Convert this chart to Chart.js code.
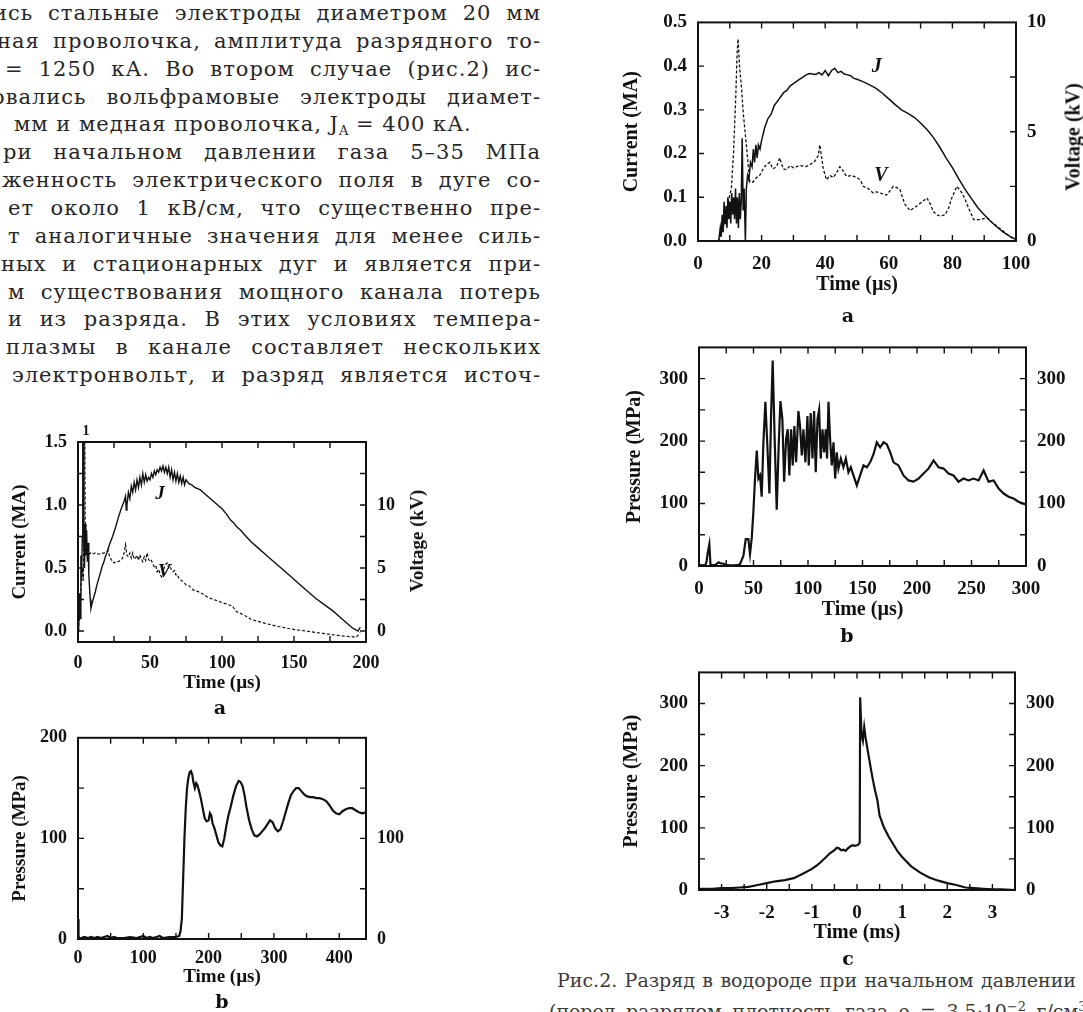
<!DOCTYPE html>
<html><head><meta charset="utf-8">
<script src="https://cdn.jsdelivr.net/npm/chart.js@4.4.1/dist/chart.umd.min.js"></script>
<style>
html,body{margin:0;padding:0;background:#fff;}
body{width:1083px;height:1012px;overflow:hidden;position:relative;}
canvas{position:absolute;}
.txt{position:absolute;font-family:'DejaVu Serif',serif;font-size:21px;letter-spacing:1px;line-height:28px;color:#262626;white-space:nowrap;}
.cap{position:absolute;font-family:'DejaVu Serif',serif;font-size:19px;line-height:28px;color:#3a3a3a;white-space:nowrap;}
.sub{position:absolute;font-family:'DejaVu Serif',serif;font-weight:bold;font-size:19px;color:#111;transform:translate(-50%,-50%);}
.vt{position:absolute;font-family:'Liberation Serif',serif;font-weight:bold;color:#111;white-space:nowrap;transform:translate(-50%,-50%) rotate(-90deg);}
sub{font-size:13px;vertical-align:-4px;line-height:0;letter-spacing:0;}
sup{font-size:13px;vertical-align:7px;line-height:0;}
</style></head>
<body>
<canvas id="la" width="410" height="276" style="left:0;top:420px"></canvas>
<canvas id="lb" width="410" height="274" style="left:0;top:716px"></canvas>
<canvas id="ra" width="483" height="299" style="left:600px;top:0"></canvas>
<canvas id="rb" width="483" height="299" style="left:600px;top:325px"></canvas>
<canvas id="rc" width="483" height="297" style="left:600px;top:650px"></canvas>
<div id="page"></div>
<script>
// ---------------- DATA ----------------
const paragraphLines = [
 "ись стальные электроды диаметром 20 мм",
 "ная проволочка, амплитуда разрядного то-",
 "= 1250 кА. Во втором случае (рис.2) ис-",
 "овались вольфрамовые электроды диамет-",
 "мм и медная проволочка, J<sub>A</sub> = 400 кА.",
 "ри начальном давлении газа 5–35 МПа",
 "женность электрического поля в дуге со-",
 "ет около 1 кВ/см, что существенно пре-",
 "т аналогичные значения для менее силь-",
 "ных и стационарных дуг и является при-",
 "м существования мощного канала потерь",
 "и из разряда. В этих условиях темпера-",
 "плазмы в канале составляет нескольких",
 "электронвольт, и разряд является источ-"
];
const captionLines = [
 "Рис.2. Разряд в водороде при начальном давлении",
 "(перед разрядом плотность газа ρ = 3.5·10<sup>−2</sup> г/см<sup>3</sup>),"
];
const subLabels = ["a", "b", "a", "b", "c"];
const timeTitleUs = "Time (µs)";
const timeTitleMs = "Time (ms)";
const currentTitle = "Current (MA)";
const voltageTitle = "Voltage (kV)";
const pressureTitle = "Pressure (MPa)";

// Fig.1a (left): time µs, current MA
const laCurrent = [[0,0],[0.5,0.05],[1,0.3],[1.5,0.1],[2,0.6],[2.5,0.4],[3,0.75],[3.3,1.6],[3.7,1.6],[4,0.7],[4.5,0.5],[5,0.85],[5.5,0.6],[6,0.8],[6.5,0.55],[7,0.7],[7.5,0.45],[8,0.35],[8.5,0.25],[9,0.18],[10,0.23],[11,0.27],[12,0.31],[13,0.36],[14,0.4],[15,0.44],[16,0.48],[17,0.52],[18,0.55],[19,0.59],[20,0.62],[22,0.69],[24,0.75],[26,0.82],[28,0.9],[30,0.97],[32,1.03],[33,1.07],[33.5,0.96],[34,1.0],[35,1.1],[36,1.05],[37,1.15],[38,1.1],[39,1.18],[40,1.12],[41,1.2],[42,1.14],[43,1.22],[44,1.16],[45,1.25],[46,1.18],[47,1.24],[48,1.19],[49,1.22],[50,1.2],[51,1.25],[52,1.22],[53,1.27],[54,1.24],[55,1.28],[56,1.26],[57,1.3],[58,1.27],[59,1.31],[60,1.26],[61,1.3],[62,1.25],[63,1.3],[64,1.22],[65,1.28],[66,1.2],[67,1.26],[68,1.19],[69,1.25],[70,1.18],[71,1.23],[72,1.17],[73,1.22],[74,1.16],[75,1.2],[77,1.17],[79,1.16],[81,1.14],[83,1.13],[85,1.12],[87,1.1],[89,1.08],[91,1.06],[93,1.04],[95,1.02],[97,1.0],[100,0.97],[103,0.93],[106,0.88],[108,0.86],[110,0.83],[113,0.8],[116,0.76],[120,0.71],[125,0.66],[131,0.6],[140,0.51],[147,0.44],[154,0.37],[160,0.31],[165,0.26],[171,0.21],[177,0.16],[182,0.11],[186,0.07],[189,0.04],[191,0.02],[193,0.01],[194.5,0.0],[196,0.03]];
// Fig.1a (left): time µs, voltage kV
const laVoltage = [[0,0],[1,1],[2,3],[3,5],[3.8,4],[4.3,17],[4.7,17],[5.1,7],[5.6,6.4],[6,6.0],[7,6.3],[8,6.1],[9,6.2],[10,6.1],[12,6.2],[14,6.1],[16,6.15],[18,6.2],[20,6.3],[21,6.4],[22,5.9],[23,5.7],[24,5.5],[25,5.4],[26,5.5],[28,5.5],[30,5.65],[31,5.8],[32,6.2],[33,6.85],[34,6.0],[35,5.9],[36,6.2],[37,5.8],[38,6.2],[39,5.7],[40,5.8],[41,6.0],[42,5.6],[43,6.05],[44,5.7],[45,5.5],[46,5.9],[47,5.6],[48,6.2],[49,5.7],[50,5.5],[51,5.6],[52,5.3],[53,5.1],[54,5.2],[55,4.7],[56,4.9],[57,4.5],[58,4.3],[59,4.6],[60,5.1],[61,5.3],[62,5.4],[63,5.0],[64,5.1],[65,4.85],[66,4.7],[67,4.8],[68,4.45],[69,4.5],[70,4.2],[72,4.0],[74,3.8],[75,3.66],[77,3.6],[80,3.26],[82,3.2],[85,3.05],[88,2.85],[90,2.68],[93,2.55],[95,2.47],[98,2.35],[100,2.25],[103,2.15],[105,2.07],[107,2.0],[110,1.54],[112,1.45],[115,1.27],[118,1.1],[120,0.93],[125,0.77],[130,0.61],[135,0.47],[140,0.34],[145,0.23],[150,0.13],[155,0.05],[160,-0.03],[165,-0.11],[170,-0.19],[175,-0.27],[180,-0.34],[185,-0.4],[190,-0.45],[193,-0.5],[196,-0.13]];
// Fig.1b (left): time µs, pressure MPa
const lbPressure = [[0,20],[0.8,3],[2,0],[5,1],[10,2],[15,1],[20,2],[25,1],[30,2],[35,1],[40,2],[45,3],[50,1],[55,2],[60,1],[70,1],[80,2],[90,1],[100,3],[105,1],[110,2],[115,1],[120,2],[125,3],[130,1],[140,2],[150,2],[155,3],[157,8],[159,20],[161,60],[163,100],[165,130],[167,150],[169,160],[171,166],[173,167],[175,163],[177,155],[179,150],[181,155],[183,153],[185,148],[188,140],[191,130],[194,120],[197,117],[200,118],[202,125],[204,123],[206,115],[209,110],[212,103],[215,96],[218,93],[221,92],[224,100],[227,112],[230,122],[234,132],[238,143],[242,152],[246,157],[249,156],[252,152],[255,143],[258,131],[262,118],[266,109],[270,103],[274,102],[278,104],[282,107],[286,110],[290,114],[294,118],[298,116],[302,110],[306,107],[310,109],[314,117],[318,126],[322,135],[326,143],[330,147],[334,150],[338,150],[342,147],[346,144],[350,142],[355,141],[360,141],[365,140],[370,140],[375,139],[380,137],[385,133],[390,128],[395,125],[400,124],[405,127],[410,129],[415,130],[420,130],[425,128],[430,126],[435,125],[441,126]];
// Fig.2a (right): time µs, current MA
const raCurrent = [[0,0],[6.5,0],[7,0.03],[7.3,0.01],[7.6,0.06],[7.9,0.02],[8.2,0.09],[8.5,0.04],[8.8,0.08],[9.1,0.03],[9.4,0.1],[9.7,0.05],[10,0.09],[10.3,0.04],[10.6,0.11],[10.9,0.06],[11.2,0.1],[11.5,0.05],[11.8,0.12],[12.1,0.04],[12.4,0.1],[12.7,0.03],[13,0.11],[13.3,0.05],[13.6,0.09],[13.9,0.235],[14.2,0.07],[14.5,0.12],[14.9,0],[15.2,0.12],[15.6,0.15],[16,0.14],[16.5,0.18],[17,0.17],[17.4,0.21],[17.8,0.18],[18.2,0.22],[18.6,0.19],[19,0.22],[19.5,0.21],[20,0.23],[21,0.26],[22,0.28],[23,0.29],[24,0.31],[25,0.32],[26,0.33],[27,0.34],[28,0.345],[29,0.355],[30,0.36],[31,0.365],[32,0.37],[33,0.375],[34,0.38],[35,0.383],[36,0.382],[37,0.381],[38,0.385],[39,0.38],[40,0.39],[41,0.378],[42,0.39],[43,0.395],[44,0.385],[45,0.388],[46,0.382],[47,0.38],[48,0.378],[49,0.372],[50,0.37],[52,0.364],[54,0.357],[56,0.349],[58,0.338],[60,0.325],[62,0.312],[64,0.3],[66,0.292],[68,0.283],[70,0.27],[72,0.255],[74,0.237],[76,0.215],[78,0.19],[80,0.168],[82,0.142],[84,0.118],[86,0.097],[88,0.076],[90,0.06],[92,0.045],[94,0.032],[96,0.02],[98,0.011],[100,0.003]];
// Fig.2a (right): time µs, voltage kV
const raVoltage = [[0,0],[6.5,0],[7.9,0.6],[8.5,1.0],[9.5,1.8],[10.5,2.4],[11.2,4.1],[11.9,6.7],[12.3,8.6],[12.6,9.24],[13.1,7.9],[13.7,7.0],[14.2,5.9],[15.2,4.4],[16.3,2.7],[17.3,2.7],[18.4,2.9],[19.4,3.0],[20.5,3.3],[21.5,3.5],[22.6,3.6],[23.5,3.3],[24.7,3.4],[25.7,3.8],[26.8,3.3],[27.8,3.26],[29,3.45],[30,3.35],[31,3.4],[32.5,3.45],[34,3.4],[35.2,3.5],[36.5,3.6],[37.8,3.9],[38.3,4.4],[39.4,3.3],[40.4,2.8],[41.5,3.0],[42.5,2.9],[43.5,3.1],[44.6,3.4],[45.7,3.2],[46.7,2.95],[48.3,3.0],[49.9,2.9],[51,2.8],[52,2.5],[53.5,2.4],[55.1,2.2],[56.2,2.25],[57.2,2.2],[58.3,2.15],[59.3,2.1],[60.4,2.3],[61.4,2.5],[62.4,2.45],[63.5,2.35],[64.3,2.0],[65.1,1.67],[66.7,1.39],[68.8,1.6],[70.5,1.8],[72,1.97],[73,1.7],[74,1.36],[75,1.2],[76.1,1.14],[77.7,1.2],[78.8,1.5],[79.8,1.97],[81.4,2.5],[83,2.2],[84,1.9],[85.1,1.5],[86.7,0.98],[88.8,0.98],[90.9,1.06],[92.5,0.85],[94,0.68],[95.6,0.5],[97.2,0.3],[99.3,0.08]];
// Fig.2b (right): time µs, pressure MPa
const rbPressure = [[0,2],[3,1],[6,2],[7,8],[8,21],[9.5,35],[10.5,3],[12,1],[15,2],[18,6],[20,4],[22,4],[25,2],[28,1],[32,1],[36,2],[37.6,3],[40.7,16],[42.9,43],[45.3,43],[46.8,19],[48.4,45],[49.9,87],[51.4,140],[53,185],[54.5,140],[56,145],[57.5,111],[59.1,198],[60.9,263],[62.7,193],[64.6,116],[66.1,240],[67.6,329],[69.5,198],[71.3,90],[73.2,198],[74.7,264],[76.5,235],[78.1,135],[79.9,203],[81.4,219],[82.9,145],[84.5,219],[86,161],[87.5,224],[89.1,166],[91.2,248],[92.7,224],[94.3,177],[95.8,219],[97.6,166],[99.5,240],[100.7,161],[102.5,245],[104.1,172],[105.6,248],[107.1,150],[108.7,235],[110.2,250],[111.7,172],[113.3,219],[114.8,182],[116.3,219],[117.5,172],[118.8,263],[120.3,203],[121.8,161],[123.4,198],[124.9,140],[126.4,182],[127.9,156],[130.1,172],[132.5,158],[134.7,172],[137.1,150],[139.3,158],[141.7,145],[144.8,129],[147.8,145],[150.9,161],[154,158],[157,166],[160.1,179],[163.1,198],[166.2,190],[169.3,198],[172.3,195],[175.4,182],[178.5,166],[183,161],[187.6,145],[192.2,137],[196.8,135],[201.4,140],[206,148],[210.6,156],[215.2,169],[219.8,158],[224.4,156],[229,148],[233.5,145],[238.1,135],[242.7,140],[247.3,137],[251.9,140],[256.5,137],[261.1,153],[265.7,135],[270.3,137],[274.9,124],[279.5,116],[284,111],[288.6,108],[293.2,103],[300,98]];
// Fig.2c (right): time ms, pressure MPa
const rcPressure = [[-3.5,2],[-3.2,2],[-3,3],[-2.8,3],[-2.6,4],[-2.4,5],[-2.2,8],[-2,11],[-1.8,14],[-1.6,16],[-1.4,19],[-1.2,26],[-1,34],[-0.9,39],[-0.8,45],[-0.7,52],[-0.6,59],[-0.5,64],[-0.45,68],[-0.4,67],[-0.35,64],[-0.3,65],[-0.25,63],[-0.2,67],[-0.15,70],[-0.1,72],[-0.05,71],[0,72],[0.03,73],[0.06,76],[0.07,310],[0.1,250],[0.13,240],[0.16,262],[0.19,245],[0.22,232],[0.26,215],[0.3,198],[0.35,178],[0.4,160],[0.45,145],[0.5,120],[0.6,100],[0.7,86],[0.8,74],[0.9,62],[1,53],[1.2,38],[1.4,28],[1.6,20],[1.8,15],[2,11],[2.2,8],[2.4,4],[2.6,3],[2.8,2],[3,1],[3.2,1],[3.5,0]];

// tick labels shown
const laXLabels = [0,50,100,150,200];
const laYLabels = [0,0.5,1.0,1.5];
const laY2Labels = [0,5,10];
const lbXLabels = [0,100,200,300,400];
const lbYLabels = [0,100,200];
const lbY2Labels = [0,100];
const raXLabels = [0,20,40,60,80,100];
const raYLabels = [0,0.1,0.2,0.3,0.4,0.5];
const raY2Labels = [0,5,10];
const rbXLabels = [0,50,100,150,200,250,300];
const rbYLabels = [0,100,200,300];
const rcXLabels = [-3,-2,-1,0,1,2,3];
const rcYLabels = [0,100,200,300];

// ---------------- PAGE TEXT ----------------
const page = document.getElementById('page');
const paraLeft = [-7,-3,5,-8,14,3,2,8,8,1,8,8,6,12];
const justified = [];
paragraphLines.forEach((t,i)=>{
  const d = document.createElement('div');
  d.className='txt'; d.innerHTML=t;
  d.style.left = paraLeft[i]+'px';
  d.style.top = (-1 + 27.85*i)+'px';
  page.appendChild(d);
  if (i !== 4) justified.push([d, 541]);
});
const capTop = [966, 997], capLeft = [557, 549], capRight = [1076, 1100];
captionLines.forEach((t,i)=>{
  const d = document.createElement('div');
  d.className='cap'; d.innerHTML=t;
  d.style.left = capLeft[i]+'px'; d.style.top = capTop[i]+'px';
  page.appendChild(d);
  justified.push([d, capRight[i]]);
});
function justify(el, right){
  const left = parseFloat(el.style.left);
  el.style.wordSpacing='0px';
  const w = el.getBoundingClientRect().width;
  const gaps = (el.textContent.match(/ /g)||[]).length;
  if (gaps) el.style.wordSpacing = ((right-left-w)/gaps)+'px';
}
justified.forEach(([d,r])=>justify(d,r));
const subPos = [[220,707],[222,1001],[848,315],[847,635],[848,958]];
subLabels.forEach((t,i)=>{
  const d=document.createElement('div'); d.className='sub'; d.textContent=t;
  d.style.left=subPos[i][0]+'px'; d.style.top=subPos[i][1]+'px'; page.appendChild(d);
});
[[417,541,19],[1073,137,20]].forEach(([x,y,s])=>{
  const d=document.createElement('div'); d.className='vt'; d.textContent=voltageTitle;
  d.style.left=x+'px'; d.style.top=y+'px'; d.style.fontSize=s+'px'; page.appendChild(d);
});

// ---------------- CHARTS ----------------
const INK = '#111';
const pts = a => a.map(([x,y])=>({x,y}));
const font = (s, style) => ({family:'Liberation Serif', size:s, weight:'bold', style: style||'normal'});
const near = (v, list) => list.some(l => Math.abs(l - v) < 1e-6);

function framePlugin(){
  return { id:'frame', afterDatasetsDraw(chart){
    const {ctx, chartArea:a, scales} = chart;
    ctx.save();
    ctx.strokeStyle = INK; ctx.lineWidth = 2;
    ctx.strokeRect(a.left, a.top, a.right-a.left, a.bottom-a.top);
    ctx.lineWidth = 1.4; ctx.beginPath();
    const L = 6;
    scales.x.ticks.forEach(t=>{ const p = scales.x.getPixelForValue(t.value);
      if (p < a.left+2 || p > a.right-2) return;
      ctx.moveTo(p,a.bottom); ctx.lineTo(p,a.bottom-L); ctx.moveTo(p,a.top); ctx.lineTo(p,a.top+L); });
    scales.y.ticks.forEach(t=>{ const p = scales.y.getPixelForValue(t.value);
      if (p < a.top+2 || p > a.bottom-2) return;
      ctx.moveTo(a.left,p); ctx.lineTo(a.left+L,p); });
    const r = scales.y2 || scales.y;
    r.ticks.forEach(t=>{ const p = r.getPixelForValue(t.value);
      if (p < a.top+2 || p > a.bottom-2) return;
      ctx.moveTo(a.right,p); ctx.lineTo(a.right-L,p); });
    ctx.stroke(); ctx.restore();
  }};
}
function marksPlugin(items){
  return { id:'marks', afterDraw(chart){
    const {ctx, scales} = chart;
    items.forEach(m=>{
      ctx.save(); ctx.font = m.font; ctx.fillStyle = INK; ctx.textAlign='center'; ctx.textBaseline='middle';
      ctx.fillText(m.text, scales.x.getPixelForValue(m.x), scales.y.getPixelForValue(m.y));
      ctx.restore();
    });
  }};
}

function xScale(o){
  return { type:'linear', position:'bottom', min:o.min, max:o.max,
    afterFit: s => { s.height = o.h; },
    grid:{display:false, drawTicks:false}, border:{display:false},
    ticks:{ stepSize:o.step, autoSkip:false, maxRotation:0, minRotation:0, includeBounds:false, padding:o.pad,
      font:font(o.fs), color:INK, callback: v => near(v,o.labels) ? String(Math.round(v*1000)/1000) : '' },
    title:{display:true, text:o.title, font:font(o.ts), color:INK, padding:{top:0,bottom:o.tpb}} };
}
function yScale(o){
  return { type:'linear', position:o.pos, min:o.min, max:o.max,
    afterFit: s => { s.width = o.w; },
    grid:{display:false, drawTicks:false}, border:{display:false},
    ticks:{ stepSize:o.step, autoSkip:false, includeBounds:false, padding:11,
      font:font(o.fs), color:INK, callback: v => near(v,o.labels) ? (o.dec ? v.toFixed(o.dec) : String(Math.round(v))) : '' },
    title: o.title ? {display:true, text:o.title, font:font(o.ts), color:INK, padding:{top:o.tpt,bottom:0}} : {display:false} };
}
function make(id, padTop, datasets, scales, items){
  return new Chart(document.getElementById(id), {
    type:'line',
    data:{datasets},
    options:{ responsive:false, animation:false,
      layout:{padding:{top:padTop,left:0,right:0,bottom:0}},
      plugins:{legend:{display:false}, tooltip:{enabled:false}},
      elements:{point:{radius:0}, line:{tension:0}},
      scales },
    plugins:[framePlugin(), marksPlugin(items||[])]
  });
}
const solid = (d, w, axis) => ({data:pts(d), borderColor:INK, borderWidth:w, pointRadius:0, fill:false, yAxisID:axis||'y'});
const dashed = (d, w, axis) => ({data:pts(d), borderColor:INK, borderWidth:w, borderDash:[3,2], pointRadius:0, fill:false, yAxisID:axis||'y'});

// Left a
make('la', 22, [solid(laCurrent,1.4,'y'), dashed(laVoltage,1.2,'y2')], {
  x: xScale({min:0,max:200,step:25,labels:laXLabels,h:54,pad:11,fs:18,title:timeTitleUs,ts:19,tpb:2}),
  y: yScale({pos:'left',min:-0.087,max:1.5,step:0.25,labels:laYLabels,dec:1,w:78,fs:18,title:currentTitle,ts:19,tpt:9}),
  y2: yScale({pos:'right',min:-0.87,max:15,step:2.5,labels:laY2Labels,w:44,fs:18})
}, [{x:57,y:1.09,text:'J',font:'italic bold 19px "Liberation Serif"'},
    {x:60,y:0.465,text:'V',font:'italic bold 19px "Liberation Serif"'},
    {x:5.5,y:1.585,text:'1',font:'bold 14px "Liberation Serif"'}]);

// Left b
make('lb', 20, [solid(lbPressure,2.2)], {
  x: xScale({min:0,max:441,step:50,labels:lbXLabels,h:51,pad:9,fs:18,title:timeTitleUs,ts:19,tpb:2}),
  y: yScale({pos:'left',min:0,max:200,step:50,labels:lbYLabels,w:78,fs:18,title:pressureTitle,ts:19,tpt:9}),
  y2: yScale({pos:'right',min:0,max:200,step:50,labels:lbY2Labels,w:44,fs:18})
});

// Right a
make('ra', 20, [solid(raCurrent,1.5,'y'), dashed(raVoltage,1.3,'y2')], {
  x: xScale({min:0,max:100,step:10,labels:raXLabels,h:58,pad:12,fs:19,title:timeTitleUs,ts:20,tpb:2}),
  y: yScale({pos:'left',min:0,max:0.5,step:0.1,labels:raYLabels,dec:1,w:98,fs:19,title:currentTitle,ts:20,tpt:20}),
  y2: yScale({pos:'right',min:0,max:10,step:2.5,labels:raY2Labels,w:67,fs:19})
}, [{x:56.2,y:0.398,text:'J',font:'italic bold 20px "Liberation Serif"'},
    {x:57.5,y:0.148,text:'V',font:'italic bold 20px "Liberation Serif"'}]);

// Right b
make('rb', 19, [solid(rbPressure,2.2)], {
  x: xScale({min:0,max:300,step:25,labels:rbXLabels,h:58,pad:12,fs:19,title:timeTitleUs,ts:20,tpb:2}),
  y: yScale({pos:'left',min:0,max:350,step:50,labels:rbYLabels,w:99,fs:19,title:pressureTitle,ts:20,tpt:23}),
  y2: yScale({pos:'right',min:0,max:350,step:50,labels:rbYLabels,w:57,fs:19})
});

// Right c
make('rc', 18, [solid(rcPressure,2.2)], {
  x: xScale({min:-3.5,max:3.5,step:0.5,labels:rcXLabels,h:57,pad:12,fs:19,title:timeTitleMs,ts:20,tpb:2}),
  y: yScale({pos:'left',min:0,max:350,step:50,labels:rcYLabels,w:99,fs:19,title:pressureTitle,ts:20,tpt:20}),
  y2: yScale({pos:'right',min:0,max:350,step:50,labels:rcYLabels,w:68,fs:19})
});
</script>
</body></html>
